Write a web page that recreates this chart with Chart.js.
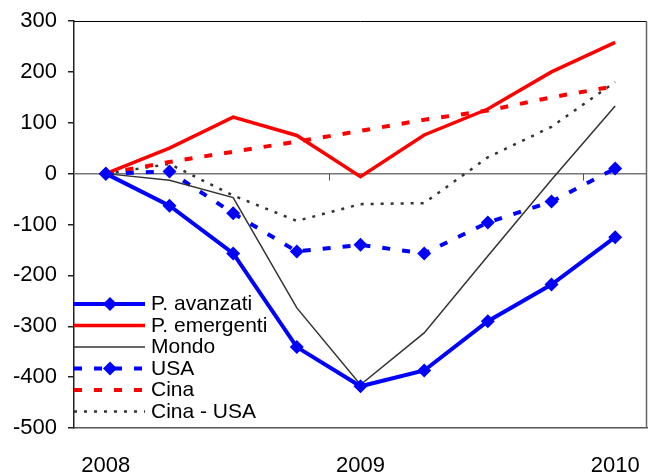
<!DOCTYPE html>
<html lang="it">
<head>
<meta charset="UTF-8">
<title>P. avanzati, emergenti, USA, Cina</title>
<script src="https://cdn.jsdelivr.net/npm/chart.js"></script>
<style>
    html, body { margin: 0; padding: 0; background: #fff; }
    #box { width: 656px; height: 475px; }
</style>
</head>
<body>
<div id="box"><canvas id="grafico"></canvas></div>

<script>
    // trimestri 2008-2010, etichetta solo a inizio anno
    const categorie = ['2008', '', '', '', '2009', '', '', '', '2010'];

    const avanzati  = [0, -63, -157, -341, -418, -387, -290, -218, -125];
    const emergenti = [0, 50, 111, 75, -6, 76, 127, 200, 258];
    const mondo     = [0, -13, -47, -264, -415, -313, -162, -12, 133];
    const usa       = [0, 4, -78, -153, -140, -157, -96, -55, 10];
    const cina      = [0, 23, 43, 63, 84, 106, 124, 150, 172];
    const cinaUsa   = [0, 19, -43, -93, -60, -58, 32, 92, 180];

    const yMin = -500, yMax = 300, yPasso = 100;

    const FONT = '"Liberation Sans", Arial, sans-serif';

    // bordo del riquadro, tacche sull'asse dello zero e legenda interna
    const extra = {
        id: 'extra',
        beforeDatasetsDraw(chart) {
            const ctx = chart.ctx;
            const x = chart.scales.x;
            const y = chart.scales.y;
            const y0 = y.getPixelForValue(0);
            ctx.save();
            ctx.strokeStyle = '#555';
            ctx.lineWidth = 1;
            for (let i = 4; i < categorie.length; i += 4) {
                const px = Math.round((x.getPixelForValue(i - 1) + x.getPixelForValue(i)) / 2) + 0.5;
                ctx.beginPath();
                ctx.moveTo(px, y0);
                ctx.lineTo(px, y0 + 7);
                ctx.stroke();
            }
            ctx.restore();
        },
        afterDraw(chart) {
            const ctx = chart.ctx;
            const a = chart.chartArea;
            ctx.save();
            ctx.strokeStyle = '#000';
            ctx.lineWidth = 1;
            ctx.beginPath();
            ctx.moveTo(a.left, a.top + 0.5);
            ctx.lineTo(a.right - 0.5, a.top + 0.5);
            ctx.stroke();
            ctx.strokeStyle = '#666';
            ctx.lineWidth = 1.5;
            ctx.beginPath();
            ctx.moveTo(a.right - 0.5, a.top);
            ctx.lineTo(a.right - 0.5, a.bottom);
            ctx.stroke();

            // legenda
            const x1 = a.left, x2 = a.left + 71;
            let ry = 304;
            ctx.font = '21px ' + FONT;
            ctx.textBaseline = 'alphabetic';
            chart.data.datasets.forEach(function (ds) {
                ctx.strokeStyle = ds.borderColor;
                ctx.lineWidth = ds.borderWidth;
                ctx.setLineDash(ds.borderDash || []);
                ctx.beginPath();
                ctx.moveTo(x1, ry);
                ctx.lineTo(x2, ry);
                ctx.stroke();
                ctx.setLineDash([]);
                if (ds.pointRadius > 0) {
                    const r = ds.pointRadius;
                    ctx.fillStyle = ds.pointBackgroundColor;
                    ctx.beginPath();
                    ctx.moveTo(x1 + 36, ry - r);
                    ctx.lineTo(x1 + 36 + r, ry);
                    ctx.lineTo(x1 + 36, ry + r);
                    ctx.lineTo(x1 + 36 - r, ry);
                    ctx.closePath();
                    ctx.fill();
                }
                ctx.fillStyle = '#000';
                ctx.fillText(ds.label, x2 + 6, ry + 6);
                ry += 21.5;
            });
            ctx.restore();
        }
    };

    const dati = {
        labels: categorie,
        datasets: [
            {
                label: 'P. avanzati',
                data: avanzati,
                borderColor: '#0000ff',
                borderWidth: 4,
                pointStyle: 'rectRot',
                pointRadius: 7,
                pointBackgroundColor: '#0000ff',
                pointBorderWidth: 0
            },
            {
                label: 'P. emergenti',
                data: emergenti,
                borderColor: '#ff0000',
                borderWidth: 3.5,
                pointRadius: 0
            },
            {
                label: 'Mondo',
                data: mondo,
                borderColor: '#333333',
                borderWidth: 1.5,
                pointRadius: 0
            },
            {
                label: 'USA',
                data: usa,
                borderColor: '#0000ff',
                borderWidth: 4,
                borderDash: [8, 12],
                pointStyle: 'rectRot',
                pointRadius: 7,
                pointBackgroundColor: '#0000ff',
                pointBorderWidth: 0
            },
            {
                label: 'Cina',
                data: cina,
                borderColor: '#ff0000',
                borderWidth: 4,
                borderDash: [8, 12],
                pointRadius: 0
            },
            {
                label: 'Cina - USA',
                data: cinaUsa,
                borderColor: '#333333',
                borderWidth: 2.5,
                borderDash: [3, 7],
                pointRadius: 0
            }
        ]
    };

    const config = {
        type: 'line',
        data: dati,
        options: {
            responsive: true,
            maintainAspectRatio: false,
            animation: false,
            layout: { padding: { top: 21, right: 9, left: 0, bottom: 0 } },
            elements: { line: { tension: 0 } },
            scales: {
                x: {
                    offset: true,
                    grid: { display: false },
                    border: { display: true, color: '#555', width: 1.5 },
                    ticks: {
                        autoSkip: false,
                        maxRotation: 0,
                        padding: 17,
                        color: '#000',
                        font: { family: FONT, size: 22 }
                    },
                    afterFit: function (s) {
                        s.height = 47;
                        s.paddingLeft = 0;
                        s.paddingRight = 0;
                    }
                },
                y: {
                    min: yMin,
                    max: yMax,
                    grid: {
                        drawOnChartArea: true,
                        color: function (c) { return c.tick && c.tick.value === 0 ? '#777' : 'rgba(0,0,0,0)'; },
                        lineWidth: 1.5,
                        drawTicks: true,
                        tickLength: 6,
                        tickColor: '#222'
                    },
                    border: { display: true, color: '#222', width: 1.5 },
                    ticks: {
                        stepSize: yPasso,
                        padding: 11,
                        color: '#000',
                        font: { family: FONT, size: 22 }
                    },
                    afterFit: function (s) {
                        s.width = 74;
                        s.paddingTop = 0;
                        s.paddingBottom = 0;
                    }
                }
            },
            plugins: {
                legend: { display: false },
                tooltip: { enabled: false }
            }
        },
        plugins: [extra]
    };

    new Chart(document.getElementById('grafico'), config);
</script>
</body>
</html>
